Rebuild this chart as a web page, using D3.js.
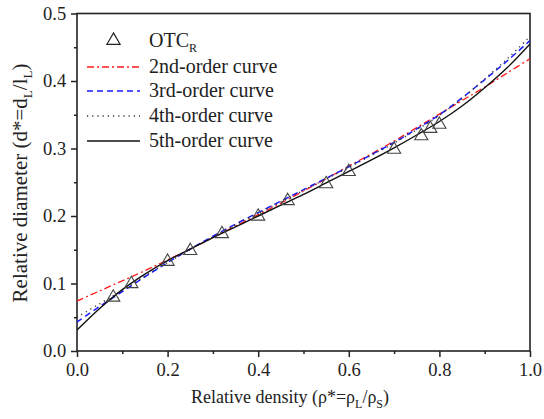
<!DOCTYPE html>
<html><head><meta charset="utf-8">
<script src="https://cdn.jsdelivr.net/npm/d3@7"></script>
<style>body{margin:0;background:#fff}svg{display:block}text{font-family:"Liberation Serif","Times New Roman",serif;fill:#222}</style>
</head><body><svg id="c" width="544" height="419"></svg>
<script>
const dataX = [0.08,0.12,0.20,0.25,0.32,0.40,0.465,0.55,0.60,0.70,0.76,0.78,0.80];
const dataY = [0.081,0.101,0.134,0.150,0.175,0.201,0.224,0.249,0.267,0.300,0.320,0.331,0.337];
const curveX = [0,0.05,0.1,0.15,0.2,0.25,0.3,0.35,0.4,0.45,0.5,0.55,0.6,0.65,0.7,0.75,0.8,0.85,0.9,0.95,1.0];
const order2 = [0.074,0.089,0.104,0.119,0.135,0.151,0.168,0.185,0.202,0.219,0.237,0.255,0.274,0.292,0.311,0.331,0.351,0.371,0.391,0.412,0.433];
const order3 = [0.043,0.066,0.088,0.110,0.131,0.151,0.170,0.188,0.205,0.222,0.239,0.256,0.273,0.291,0.309,0.329,0.350,0.375,0.402,0.430,0.460];
const order4 = [0.050,0.070,0.090,0.111,0.131,0.150,0.169,0.187,0.204,0.221,0.238,0.255,0.272,0.290,0.308,0.328,0.349,0.374,0.403,0.433,0.466];
const order5 = [0.031,0.063,0.091,0.114,0.134,0.151,0.168,0.184,0.200,0.216,0.232,0.249,0.266,0.283,0.301,0.320,0.340,0.363,0.390,0.420,0.455];
const xTicks = [0,0.2,0.4,0.6,0.8,1.0];
const yTicks = [0,0.1,0.2,0.3,0.4,0.5];
const legendLabels = ["2nd-order curve","3rd-order curve","4th-order curve","5th-order curve"];

const svg = d3.select("#c");
const L=77,R=530,T=13.5,B=351;
const x = d3.scaleLinear().domain([0,1]).range([L,R]);
const y = d3.scaleLinear().domain([0,0.5]).range([B,T]);
const axColor="#222";

const xMinor = d3.range(0.1,1,0.2);
const yMinor = d3.range(0.05,0.5,0.1);
const gx = svg.append("g").attr("transform",`translate(0,${B})`)
  .call(d3.axisBottom(x).tickValues(xTicks).tickFormat(d3.format(".1f")).tickSize(6).tickSizeOuter(0));
const gxm = svg.append("g").attr("transform",`translate(0,${B})`)
  .call(d3.axisBottom(x).tickValues(xMinor).tickFormat("").tickSize(3).tickSizeOuter(0));
const gy = svg.append("g").attr("transform",`translate(${L},0)`)
  .call(d3.axisLeft(y).tickValues(yTicks).tickFormat(d3.format(".1f")).tickSize(6).tickSizeOuter(0));
const gym = svg.append("g").attr("transform",`translate(${L},0)`)
  .call(d3.axisLeft(y).tickValues(yMinor).tickFormat("").tickSize(3).tickSizeOuter(0));
[gx,gxm,gy,gym].forEach(g=>{
  g.selectAll("path.domain").remove();
  g.selectAll("line").attr("stroke",axColor).attr("stroke-width",1.5);
  g.selectAll("text").attr("font-size",18.5).attr("font-family","Liberation Serif").attr("fill","#222");
});
gx.selectAll("text").attr("dy","0.85em");
gy.selectAll("text").attr("dx","-0.1em");

svg.append("rect").attr("x",L).attr("y",T).attr("width",R-L).attr("height",B-T)
  .attr("fill","none").attr("stroke",axColor).attr("stroke-width",1.6);

svg.append("clipPath").attr("id","cp").append("rect").attr("x",L).attr("y",T).attr("width",R-L).attr("height",B-T);
const plot = svg.append("g").attr("clip-path","url(#cp)");

const line = d3.line().x(d=>x(d[0])).y(d=>y(d[1])).curve(d3.curveCatmullRom);
const styles = [
  {vals:order2,color:"#ff1a1a",dash:"7,3,2,3",w:1.3},
  {vals:order3,color:"#1a1aff",dash:"6,4",w:1.5},
  {vals:order4,color:"#333",dash:"1.2,4",w:1.4},
  {vals:order5,color:"#111",dash:null,w:1.4}
];
styles.forEach(s=>{
  plot.append("path").datum(curveX.map((v,i)=>[v,s.vals[i]]))
    .attr("d",line).attr("fill","none").attr("stroke",s.color).attr("stroke-width",s.w)
    .attr("stroke-dasharray",s.dash);
});

const tri = d3.symbol().type(d3.symbolTriangle).size(75);
svg.append("g").selectAll("path").data(dataX.map((v,i)=>[v,dataY[i]])).join("path")
  .attr("d",tri).attr("transform",d=>`translate(${x(d[0])},${y(d[1])+1})`)
  .attr("fill","none").attr("stroke","#444").attr("stroke-width",1.1);

const lg = svg.append("g");
lg.append("path").attr("d",tri).attr("transform","translate(113.5,40.5)").attr("fill","none").attr("stroke","#222").attr("stroke-width",1.2);
const otc = lg.append("text").attr("x",149).attr("y",47).attr("font-size",20);
otc.append("tspan").text("OTC");
otc.append("tspan").attr("font-size",12).attr("dy",5).text("R");
const rowsY=[67,91,116,141];
styles.forEach((s,i)=>{
  lg.append("line").attr("x1",87).attr("x2",140).attr("y1",rowsY[i]).attr("y2",rowsY[i])
    .attr("stroke",s.color).attr("stroke-width",s.w).attr("stroke-dasharray",s.dash);
  lg.append("text").attr("x",149).attr("y",rowsY[i]+6).attr("font-size",20).text(legendLabels[i]);
});

const xt = svg.append("text").attr("x",290).attr("y",403).attr("text-anchor","middle").attr("font-size",18);
xt.append("tspan").text("Relative density (ρ*=ρ");
xt.append("tspan").attr("font-size",12).attr("dy",5).text("L");
xt.append("tspan").attr("dy",-5).text("/ρ");
xt.append("tspan").attr("font-size",12).attr("dy",5).text("S");
xt.append("tspan").attr("dy",-5).text(")");

const yt = svg.append("text").attr("transform","translate(27,183) rotate(-90)").attr("text-anchor","middle").attr("font-size",21);
yt.append("tspan").text("Relative diameter (d*=d");
yt.append("tspan").attr("font-size",13).attr("dy",5).text("L");
yt.append("tspan").attr("dy",-5).text("/l");
yt.append("tspan").attr("font-size",13).attr("dy",5).text("L");
yt.append("tspan").attr("dy",-5).text(")");
</script></body></html>
